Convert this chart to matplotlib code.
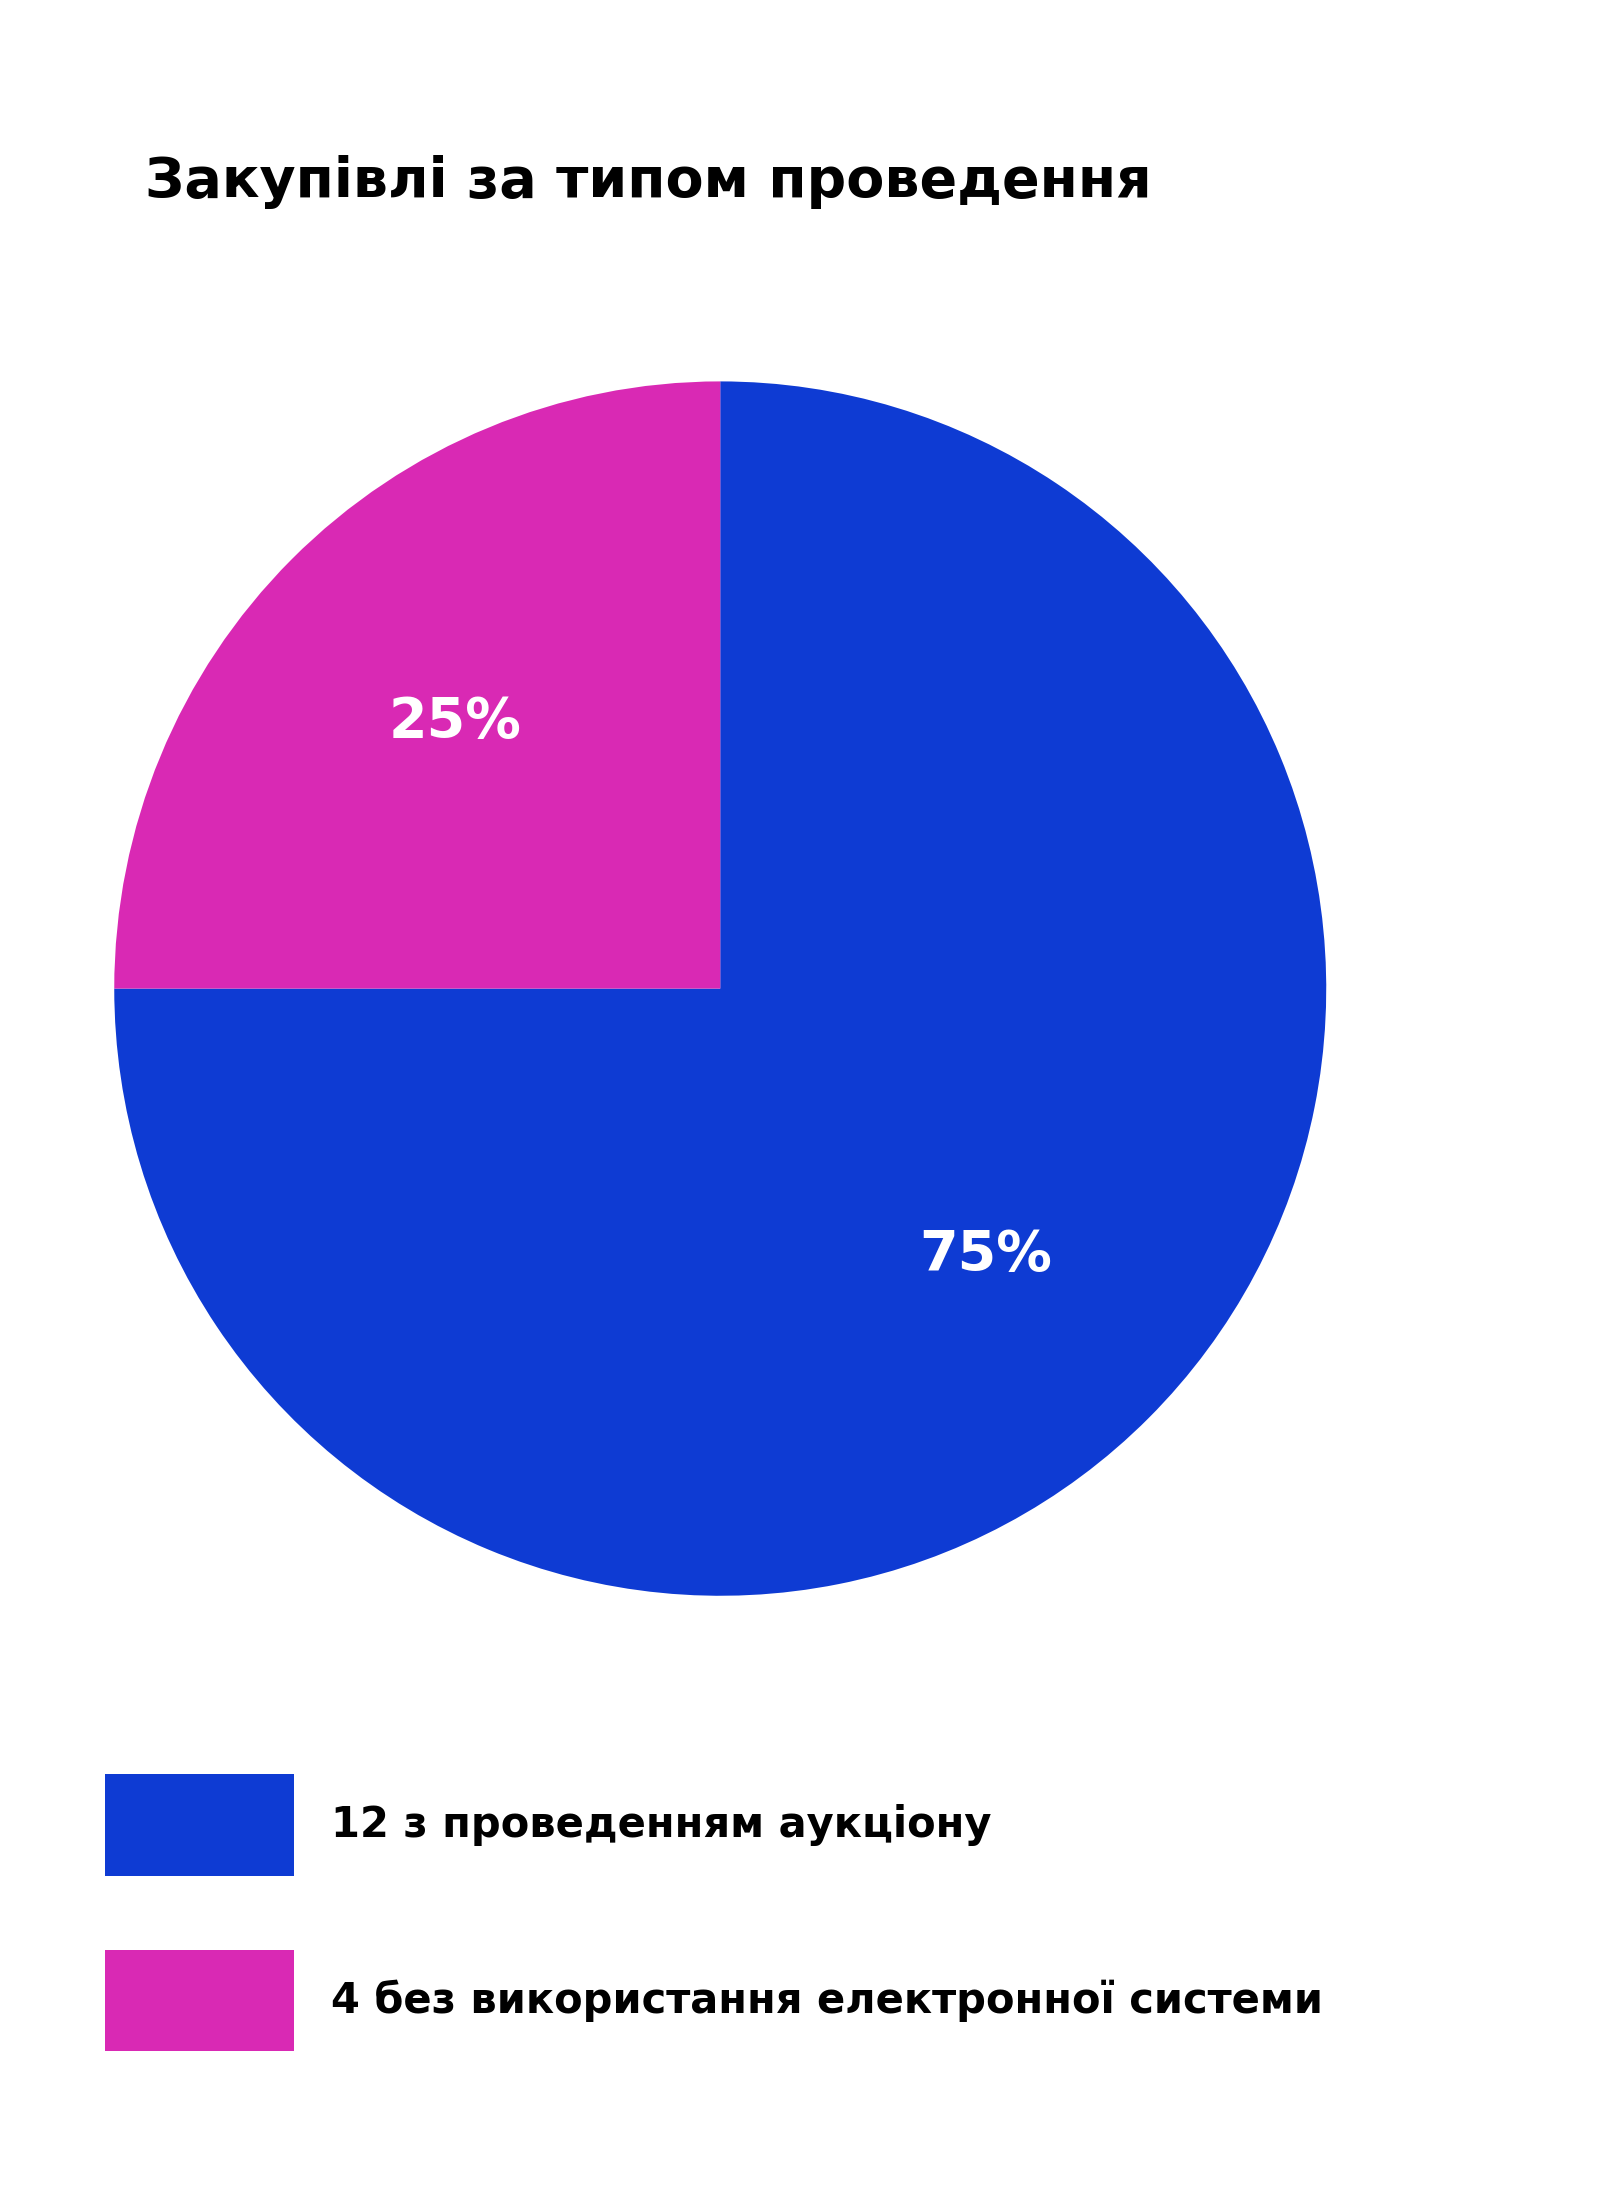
import matplotlib
matplotlib.use("Agg")
import matplotlib.pyplot as plt
from matplotlib.patches import Rectangle

title = "Закупівлі за типом проведення"
labels = ["12 з проведенням аукціону", "4 без використання електронної системи"]
values = [12, 4]
colors = ["#0E3BD3", "#D929B4"]

plt.rcParams['font.family'] = ['DejaVu Sans']
fig = plt.figure(figsize=(16.16, 21.92), dpi=100)
fig.patch.set_facecolor("white")
ax = fig.add_axes([0.0707, 0.272, 0.75, 0.554])
wedges, texts, autotexts = ax.pie(values, colors=colors, startangle=90, counterclock=False,
                                  autopct=lambda p: f"{p:.0f}%", pctdistance=0.62,
                                  wedgeprops=dict(linewidth=0))
for t in autotexts:
    t.set_color("white"); t.set_fontsize(40); t.set_fontweight("bold")
ax.set_aspect("auto")
ax.set_xlim(-1, 1); ax.set_ylim(-1, 1)
ax.axis("off")

fig.text(0.09, 0.917, title, fontsize=40, fontweight="bold", va="center", ha="left")

ys = [0.1443, 0.0642]
for lab, col, y in zip(labels, colors, ys):
    fig.patches.append(Rectangle((0.0647, y), 0.117, 0.0464, transform=fig.transFigure,
                                 facecolor=col, edgecolor="none"))
    fig.text(0.205, y + 0.0232, lab, fontsize=30, fontweight="bold", va="center", ha="left")

fig.savefig("out.png", dpi=100)
